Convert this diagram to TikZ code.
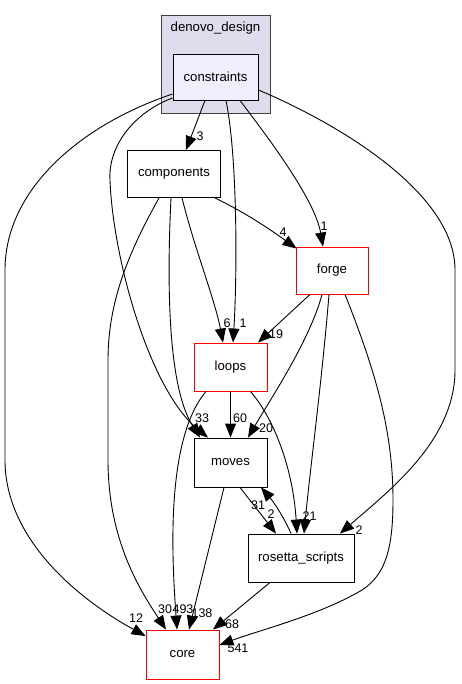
\documentclass[tikz,border=0pt]{standalone}
\usepackage{fontspec}
\setmainfont{Liberation Sans}
\usetikzlibrary{arrows.meta}
\definecolor{clfill}{HTML}{DDDDEE}
\definecolor{cnfill}{HTML}{EEEEFF}
\definecolor{clline}{HTML}{404040}
\definecolor{redline}{HTML}{FF0000}
\begin{document}
\begin{tikzpicture}[x=1pt,y=-1pt,
  cluster/.style={draw=clline, fill=clfill, line width=0.9pt, inner sep=0pt},
  box/.style={draw=black, line width=0.9pt, inner sep=0pt, font=\fontsize{13.2}{13.2}\selectfont},
  redbox/.style={box, draw=redline},
  ed/.style={draw=black, line width=0.9pt, -{Triangle[length=14pt,width=11pt]}},
  lab/.style={inner sep=0pt, font=\fontsize{12.5}{12.5}\selectfont}]
\useasboundingbox (0,0) rectangle (461,684);
% cluster
\node[cluster, minimum width=109pt, minimum height=98pt] (cl) at (215.5,64) {};
\node[inner sep=0pt, font=\fontsize{13.2}{13.2}\selectfont] (cltitle) at (215.5,28) {denovo\_design};
% nodes
\node[box, fill=cnfill, minimum width=85pt, minimum height=46pt] (constraints) at (215.5,77) {constraints};
\node[box, minimum width=93pt, minimum height=47pt] (components) at (174,174) {components};
\node[redbox, minimum width=72pt, minimum height=47pt] (forge) at (332,270.5) {forge};
\node[redbox, minimum width=73pt, minimum height=48pt] (loops) at (230.5,367) {loops};
\node[box, minimum width=73pt, minimum height=49pt] (moves) at (230.5,462.5) {moves};
\node[box, minimum width=106pt, minimum height=48pt] (rosetta) at (301,558) {rosetta\_scripts};
\node[redbox, minimum width=73pt, minimum height=49pt] (core) at (182.5,654.5) {core};
% edges from constraints
\draw[ed] ([xshift=-10.5pt]constraints.south) -- ([xshift=12pt]components.north);
\draw[ed] ([xshift=10.5pt]constraints.south) .. controls (238,160) and (237,280) .. ([xshift=2.5pt]loops.north);
\draw[ed] ([xshift=24.5pt]constraints.south) .. controls (270,140) and (315,200) .. ([xshift=-9pt]forge.north);
\draw[ed] ([yshift=-21pt]constraints.west) .. controls (135,112) and (108,145) .. (110,180) .. controls (113,260) and (150,390) .. ([xshift=-22.5pt]moves.north);
\draw[ed] ([yshift=-17pt]constraints.west) .. controls (80,125) and (5,190) .. (5,270) -- (5,460) .. controls (5,540) and (80,600) .. ([yshift=18.5pt]core.west);
\draw[ed] ([yshift=-13pt]constraints.east) .. controls (330,120) and (455,190) .. (455,270) -- (455,370) .. controls (455,440) and (390,490) .. ([xshift=39pt]rosetta.north);
% edges from components
\draw[ed] ([xshift=41pt]components.south) .. controls (250,215) and (275,233) .. ([xshift=1pt,yshift=-2pt]forge.north west);
\draw[ed] ([xshift=8pt]components.south) .. controls (195,250) and (215,300) .. ([xshift=-7.5pt]loops.north);
\draw[ed] ([xshift=-3pt]components.south) .. controls (166,300) and (170,390) .. ([xshift=-30.5pt]moves.north);
\draw[ed] ([xshift=-15pt]components.south) .. controls (130,250) and (108,300) .. (108,360) -- (108,460) .. controls (108,540) and (140,590) .. ([xshift=-16.5pt]core.north);
% edges from forge
\draw[ed] ([xshift=-22pt]forge.south) -- ([xshift=27.5pt]loops.north);
\draw[ed] ([xshift=-10pt]forge.south) .. controls (310,340) and (270,400) .. ([xshift=17.5pt]moves.north);
\draw[ed] ([xshift=-3pt]forge.south) .. controls (322,380) and (310,470) .. ([xshift=3pt]rosetta.north);
\draw[ed] ([xshift=13pt]forge.south) .. controls (375,370) and (393,430) .. (393,500) .. controls (393,550) and (385,575) .. (362,590) .. controls (320,615) and (260,630) .. ([yshift=9.5pt]core.east);
% edges from loops
\draw[ed] (loops.south) -- (moves.north);
\draw[ed] ([xshift=-24.5pt]loops.south) .. controls (165,440) and (172,560) .. ([xshift=-5.5pt]core.north);
\draw[ed] ([xshift=20pt]loops.south) .. controls (275,420) and (293,470) .. ([xshift=-4pt]rosetta.north);
% edges from moves / rosetta
\draw[ed] ([xshift=9.5pt]moves.south) -- ([xshift=-25pt]rosetta.north);
\draw[ed] ([xshift=-10pt]rosetta.north) .. controls (283,515) and (272,500) .. ([xshift=30.5pt]moves.south);
\draw[ed] ([xshift=-6.5pt]moves.south) -- ([xshift=6.5pt]core.north);
\draw[ed] ([xshift=-31pt]rosetta.south) -- ([xshift=30.5pt]core.north);
% labels
\node[lab] (l3) at (200,136) {3};
\node[lab] (l1a) at (243,323) {1};
\node[lab] (l1b) at (324,226) {1};
\node[lab] (l33) at (202,418) {33};
\node[lab] (l12) at (136,618) {12};
\node[lab] (l2a) at (359,530) {2};
\node[lab] (l4) at (283,232) {4};
\node[lab] (l6) at (227,323) {6};
\node[lab] (l19) at (276,334) {19};
\node[lab] (l20) at (266,428) {20};
\node[lab] (l2b) at (306,516) {2};
\node[lab] (l1c) at (313,516) {1};
\node[lab] (l60) at (240,418) {60};
\node[lab] (l30) at (165,609) {30};
\node[lab] (l493) at (183,609) {493};
\node[lab] (l138) at (202,613) {138};
\node[lab] (l68) at (232,624) {68};
\node[lab] (l541) at (238,648) {541};
\node[lab] (l2c) at (271,514) {2};
\node[lab] (l31) at (258,505) {31};
\end{tikzpicture}
\end{document}
